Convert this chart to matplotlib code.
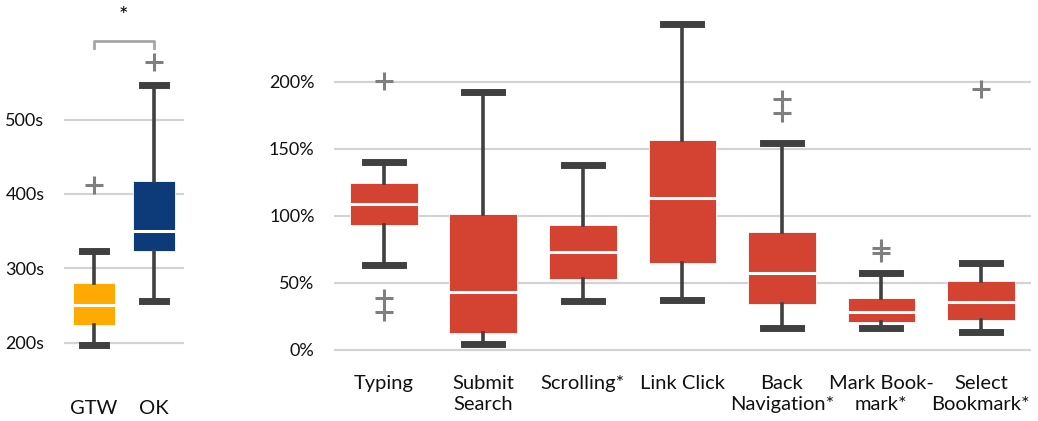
import matplotlib
matplotlib.use("Agg")
import matplotlib.pyplot as plt

plt.rcParams["font.family"] = ["Lato", "DejaVu Sans"]

# task completion time per prototype
groups = ["GTW", "OK"]
time_stats = {
    "GTW": dict(whislo=197, q1=224, med=251, q3=281, whishi=324, fliers=[412]),
    "OK": dict(whislo=256, q1=323, med=350, q3=418, whishi=546, fliers=[577]),
}
group_colors = ["#FFAA00", "#0D3A78"]

# relative duration per action
actions = ["Typing", "Submit\nSearch", "Scrolling*", "Link Click",
           "Back\nNavigation*", "Mark Book-\nmark*", "Select\nBookmark*"]
whislo = [63.7, 4.7, 36.6, 37.6, 16.7, 16.7, 13.2]
q1 = [93.1, 12.4, 52.7, 65.2, 34.3, 21.1, 22.2]
med = [108.7, 43.5, 73.4, 113.7, 57.2, 28.4, 36.0]
q3 = [124.4, 101.5, 93.1, 156.7, 87.8, 39.0, 51.7]
whishi = [140.0, 192.8, 137.8, 243.0, 154.7, 57.7, 64.7]
fliers = [[200.7, 38.6, 28.6], [], [], [], [187.6, 177.1], [75.9, 72.2], [194.5]]
action_color = "#D44232"

W, H = 1038, 421
fig = plt.figure(figsize=(W / 100, H / 100), dpi=100)


def px_axes(x0, y0, x1, y1):
    return fig.add_axes([x0 / W, 1 - y1 / H, (x1 - x0) / W, (y1 - y0) / H])


def style(ax):
    for s in ax.spines.values():
        s.set_visible(False)
    ax.grid(axis="y", color="#d3d3d3", linewidth=1.6)
    ax.set_axisbelow(True)
    ax.tick_params(length=0, labelsize=13, colors="#111111")
    ax.tick_params(axis="y", pad=14)
    ax.tick_params(axis="x", pad=8, labelsize=14.5)


def draw_boxes(ax, stats, colors, width, capw):
    bp = ax.bxp(stats, positions=range(len(stats)), widths=width,
                patch_artist=True, capwidths=capw,
                flierprops=dict(marker="+", markersize=13, markeredgewidth=2.2,
                                markeredgecolor="#7f7f7f"),
                whiskerprops=dict(color="#404040", linewidth=2.6),
                capprops=dict(color="#404040", linewidth=5),
                medianprops=dict(color="white", linewidth=2.2),
                boxprops=dict(edgecolor="white", linewidth=0.6))
    for patch, c in zip(bp["boxes"], colors):
        patch.set_facecolor(c)
    return bp


# left: completion time
ax1 = px_axes(64, 37.7, 183.7, 389)
style(ax1)
stats1 = [dict(label=g, **time_stats[g]) for g in groups]
draw_boxes(ax1, stats1, group_colors, 0.7, 0.4)
ax1.set_xlim(-0.5, 1.5)
ax1.set_ylim(138, 610)
ax1.set_yticks([200, 300, 400, 500])
ax1.set_yticklabels([f"{v}s" for v in [200, 300, 400, 500]])
ax1.set_xticks(range(len(groups)))
ax1.set_xticklabels(groups)
ax1.plot([0, 0, 1, 1], [596, 605, 605, 596], color="#a6a6a6", linewidth=2,
         clip_on=False)
ax1.text(0.5, 639, "*", ha="center", va="center", fontsize=16, clip_on=False)

# right: relative duration per action
ax2 = px_axes(334, 15, 1030.7, 363.4)
style(ax2)
stats2 = [dict(label=a, whislo=whislo[i], q1=q1[i], med=med[i], q3=q3[i],
               whishi=whishi[i], fliers=fliers[i]) for i, a in enumerate(actions)]
draw_boxes(ax2, stats2, [action_color] * len(actions), 0.68, 0.38)
ax2.set_xlim(-0.5, 6.5)
ax2.set_ylim(-10, 250)
ax2.set_yticks([0, 50, 100, 150, 200])
ax2.set_yticklabels([f"{v}%" for v in [0, 50, 100, 150, 200]])
ax2.set_xticks(range(len(actions)))
ax2.set_xticklabels(actions, linespacing=1.3)

fig.savefig("out.png", dpi=100)
